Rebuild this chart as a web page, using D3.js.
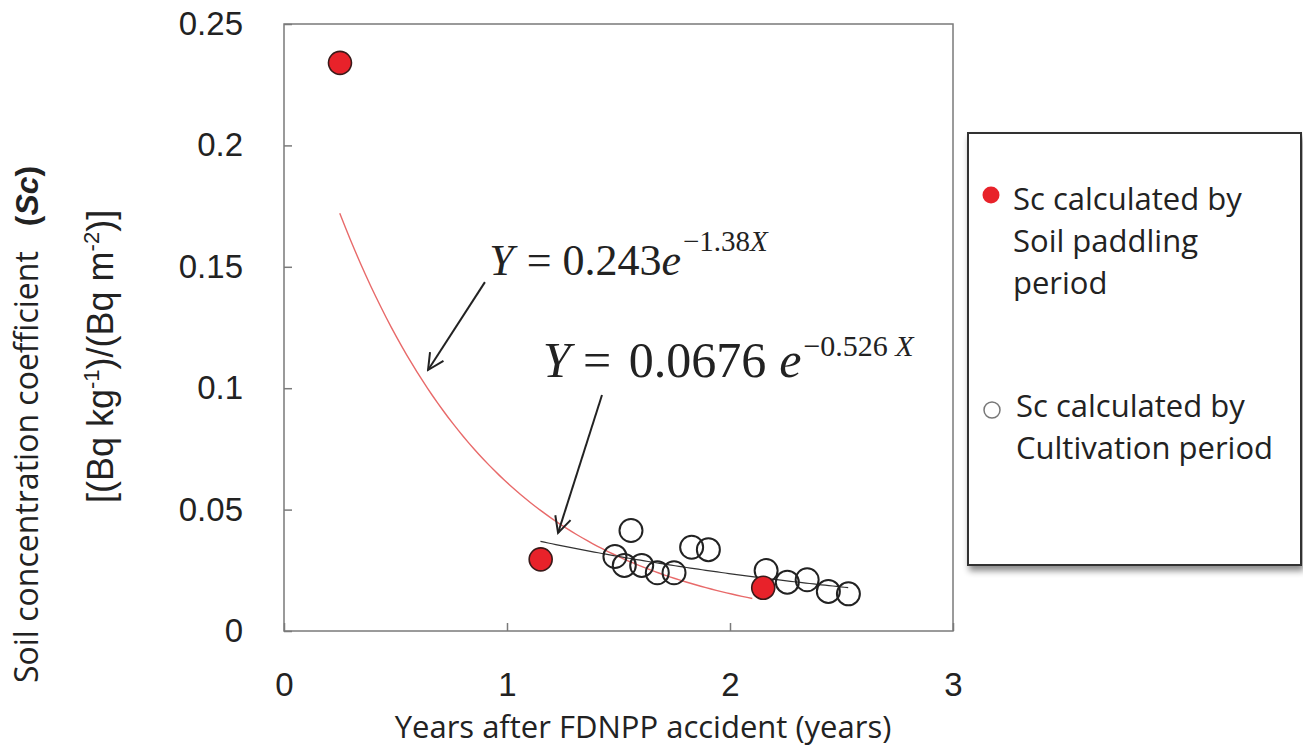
<!DOCTYPE html>
<html>
<head>
<meta charset="utf-8">
<script src="https://cdn.jsdelivr.net/npm/d3@7"></script>
<style>
  html, body { margin: 0; padding: 0; background: #fff; }
  svg { display: block; }
</style>
</head>
<body>
<svg id="chart" width="1303" height="747"></svg>
<script>
// ---- data ----
const paddlingX = [0.251, 1.151, 2.149];
const paddlingY = [0.234, 0.0295, 0.0178];
const cultX = [1.556, 1.484, 1.526, 1.604, 1.674, 1.749, 1.828, 1.903, 2.162, 2.257, 2.346, 2.441, 2.531];
const cultY = [0.0414, 0.0307, 0.027, 0.027, 0.024, 0.024, 0.0345, 0.0335, 0.0249, 0.0201, 0.0211, 0.0163, 0.0153];
const fitPaddling = [0.243, -1.38];   // a, b
const fitPaddlingRange = [0.25, 2.10];
const fitCult = [0.0676, -0.526];
const fitCultRange = [1.15, 2.53];
const xTicks = [0, 1, 2, 3];
const yTicks = [0, 0.05, 0.1, 0.15, 0.2, 0.25];
const yTickLabels = ["0", "0.05", "0.1", "0.15", "0.2", "0.25"];
const legendLabels = [["Sc calculated by", "Soil paddling", "period"], ["Sc calculated by", "Cultivation period"]];

const svg = d3.select("#chart");
const x = d3.scaleLinear().domain([0, 3]).range([284, 953]);
const y = d3.scaleLinear().domain([0, 0.25]).range([631, 24]);
const frameColor = "#7a7a7a";
const arial = "Liberation Sans, Arial, sans-serif";

// frame
svg.append("rect")
  .attr("x", x(0)).attr("y", y(0.25))
  .attr("width", x(3) - x(0)).attr("height", y(0) - y(0.25))
  .attr("fill", "none").attr("stroke", frameColor).attr("stroke-width", 1.5);

// axes
const xAxis = d3.axisBottom(x).tickValues(xTicks).tickFormat(d3.format("d"))
  .tickSizeInner(-8).tickSizeOuter(0).tickPadding(42);
const gx = svg.append("g").attr("transform", `translate(0,${y(0)})`).call(xAxis);
gx.select(".domain").remove();
gx.selectAll(".tick line").attr("stroke", frameColor).attr("stroke-width", 1.5);
gx.selectAll(".tick text").attr("font-family", arial).attr("font-size", 33).attr("fill", "#222");

const yAxis = d3.axisLeft(y).tickValues(yTicks).tickFormat((d, i) => yTickLabels[i])
  .tickSizeInner(-8).tickSizeOuter(0).tickPadding(41);
const gy = svg.append("g").attr("transform", `translate(${x(0)},0)`).call(yAxis);
gy.select(".domain").remove();
gy.selectAll(".tick line").attr("stroke", frameColor).attr("stroke-width", 1.5);
gy.selectAll(".tick text").attr("font-family", arial).attr("font-size", 33).attr("fill", "#222");

// fit curves
function curvePts(fit, range) {
  const n = 80, pts = [];
  for (let i = 0; i <= n; i++) {
    const xv = range[0] + (range[1] - range[0]) * i / n;
    pts.push([xv, fit[0] * Math.exp(fit[1] * xv)]);
  }
  return pts;
}
const line = d3.line().x(d => x(d[0])).y(d => y(d[1]));
svg.append("path").attr("d", line(curvePts(fitPaddling, fitPaddlingRange)))
  .attr("fill", "none").attr("stroke", "#e86a6a").attr("stroke-width", 1.4);
svg.append("path").attr("d", line(curvePts(fitCult, fitCultRange)))
  .attr("fill", "none").attr("stroke", "#333").attr("stroke-width", 1.2);

// points
svg.append("g").selectAll("circle").data(cultX).join("circle")
  .attr("cx", d => x(d)).attr("cy", (d, i) => y(cultY[i])).attr("r", 11.5)
  .attr("fill", "none").attr("stroke", "#222").attr("stroke-width", 2);
svg.append("g").selectAll("circle").data(paddlingX).join("circle")
  .attr("cx", d => x(d)).attr("cy", (d, i) => y(paddlingY[i])).attr("r", 11.5)
  .attr("fill", "#e8222a").attr("stroke", "#3a1a1a").attr("stroke-width", 1.6);

// arrows
const defs = svg.append("defs");
defs.append("marker").attr("id", "arr").attr("viewBox", "0 0 20 20")
  .attr("refX", 18).attr("refY", 10).attr("markerWidth", 20).attr("markerHeight", 20)
  .attr("markerUnits", "userSpaceOnUse").attr("orient", "auto")
  .append("path").attr("d", "M2,2 L18,10 L2,18").attr("fill", "none")
  .attr("stroke", "#222").attr("stroke-width", 2);
const arrows = [[0.901, 0.1437, 0.646, 0.1075], [1.426, 0.0972, 1.229, 0.0404]];
svg.append("g").selectAll("line").data(arrows).join("line")
  .attr("x1", d => x(d[0])).attr("y1", d => y(d[1]))
  .attr("x2", d => x(d[2])).attr("y2", d => y(d[3]))
  .attr("stroke", "#222").attr("stroke-width", 2).attr("marker-end", "url(#arr)");

// equations
const serif = "Liberation Serif, Times New Roman, serif";
function eq(px, py, size, parts) {
  const t = svg.append("text").attr("x", px).attr("y", py)
    .attr("font-family", serif).attr("font-size", size).attr("fill", "#222")
    .attr("xml:space", "preserve");
  parts.forEach(p => {
    const s = t.append("tspan").text(p.t);
    if (p.i) s.attr("font-style", "italic");
    if (p.dx) s.attr("dx", p.dx);
    if (p.dy) s.attr("dy", p.dy);
    if (p.fs) s.attr("font-size", p.fs);
  });
}
eq(x(0.92), y(0.1465), 44, [
  {t: "Y", i: 1}, {t: " = ", dx: 2}, {t: "0.243"}, {t: "e", i: 1},
  {t: "\u22121.38", fs: 29, dy: -24, dx: 2}, {t: "X", i: 1, fs: 29}
]);
eq(x(1.16), y(0.1045), 50, [
  {t: "Y", i: 1}, {t: " = "}, {t: "0.0676", dx: 5}, {t: "e", i: 1, dx: 13},
  {t: "\u22120.526 ", fs: 30, dy: -21, dx: 2}, {t: "X", i: 1, fs: 30}
]);

// axis titles
const sans = "Open Sans, Lato, sans-serif";
svg.append("text").attr("x", 643).attr("y", 738).attr("text-anchor", "middle")
  .attr("font-family", sans).attr("font-size", 31).attr("fill", "#222")
  .text("Years after FDNPP accident (years)");

const yt1 = svg.append("text").attr("transform", "translate(38,683) rotate(-90)")
  .attr("font-family", sans).attr("font-size", 32).attr("fill", "#222")
  .attr("xml:space", "preserve");
yt1.append("tspan").text("Soil concentration coefficient   ");
yt1.append("tspan").text("(").attr("font-family", arial).attr("font-weight", "bold");
yt1.append("tspan").text("Sc").attr("font-family", arial).attr("font-weight", "bold").attr("font-style", "italic");
yt1.append("tspan").text(")").attr("font-family", arial).attr("font-weight", "bold");

const yt2 = svg.append("text").attr("transform", "translate(113,503) rotate(-90)")
  .attr("font-family", arial).attr("font-size", 36).attr("fill", "#222");
yt2.append("tspan").text("[(Bq kg");
yt2.append("tspan").text("-1").attr("font-size", 22).attr("dy", -14);
yt2.append("tspan").text(")/(Bq m").attr("dy", 14);
yt2.append("tspan").text("-2").attr("font-size", 22).attr("dy", -14);
yt2.append("tspan").text(")]").attr("dy", 14);

// legend
const flt = defs.append("filter").attr("id", "sh").attr("x", "-10%").attr("y", "-10%")
  .attr("width", "130%").attr("height", "130%");
flt.append("feDropShadow").attr("dx", 2).attr("dy", 5).attr("stdDeviation", 3)
  .attr("flood-color", "#000").attr("flood-opacity", 0.45);
svg.append("rect").attr("x", 968).attr("y", 133).attr("width", 333).attr("height", 432)
  .attr("fill", "#fff").attr("stroke", "#333").attr("stroke-width", 2).attr("filter", "url(#sh)");
svg.append("circle").attr("cx", 991).attr("cy", 195).attr("r", 8.5).attr("fill", "#e8222a");
svg.append("circle").attr("cx", 992).attr("cy", 410).attr("r", 8).attr("fill", "#fff")
  .attr("stroke", "#777").attr("stroke-width", 1.5);
const legY = [[210, 252, 294], [417, 459]];
const legX = [1013, 1016];
legendLabels.forEach((lines, g) => {
  lines.forEach((s, k) => {
    svg.append("text").attr("x", legX[g]).attr("y", legY[g][k])
      .attr("font-family", sans).attr("font-size", 31).attr("fill", "#222").text(s);
  });
});
</script>
</body>
</html>
